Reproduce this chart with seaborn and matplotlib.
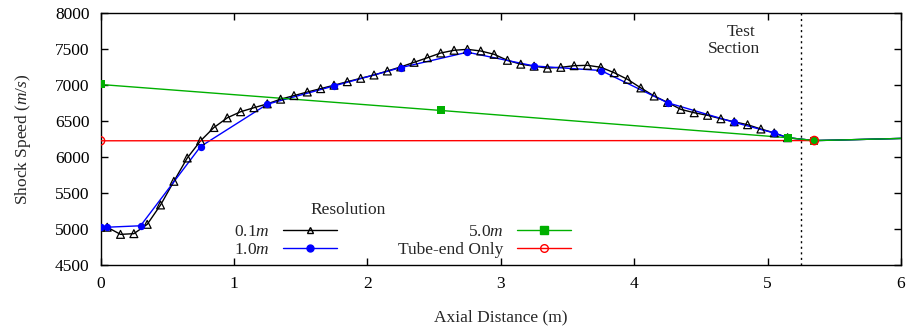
import matplotlib
matplotlib.use("Agg")
import matplotlib.pyplot as plt
from matplotlib.lines import Line2D
import seaborn as sns
import pandas as pd

# ---------------- data ----------------
x_01 = [0.00, 0.05, 0.15, 0.25, 0.35, 0.45, 0.55, 0.65, 0.75, 0.85, 0.95,
        1.05, 1.15, 1.25, 1.35, 1.45, 1.55, 1.65, 1.75, 1.85, 1.95,
        2.05, 2.15, 2.25, 2.35, 2.45, 2.55, 2.65, 2.75, 2.85, 2.95,
        3.05, 3.15, 3.25, 3.35, 3.45, 3.55, 3.65, 3.75, 3.85, 3.95,
        4.05, 4.15, 4.25, 4.35, 4.45, 4.55, 4.65, 4.75, 4.85, 4.95,
        5.05, 5.15]
v_01 = [5020, 5020, 4920, 4930, 5060, 5330, 5660, 5985, 6225, 6410, 6545,
        6630, 6686, 6740, 6805, 6855, 6905, 6952, 7000, 7049, 7096,
        7142, 7198, 7255, 7319, 7383, 7449, 7487, 7500, 7477, 7431,
        7347, 7293, 7265, 7238, 7249, 7272, 7277, 7250, 7174, 7082,
        6962, 6849, 6760, 6663, 6616, 6580, 6532, 6490, 6449, 6389,
        6335, 6268]

x_10 = [0.00, 0.05, 0.30, 0.75, 1.25, 1.75, 2.25, 2.75, 3.25, 3.75, 4.25, 4.75, 5.05]
v_10 = [5020, 5020, 5040, 6145, 6735, 6990, 7245, 7460, 7268, 7205, 6756, 6482, 6333]

x_50 = [0.00, 2.55, 5.15, 5.35]
v_50 = [7010, 6648, 6268, 6228]

x_end = [0.00, 5.35]
v_end = [6225, 6228]

# shared downstream (test section) trace without markers
x_tail = [5.15, 5.35, 5.50, 6.00]
v_tail = [6268, 6228, 6234, 6258]

labels = ["0.1$m$", "1.0$m$", "5.0$m$", "Tube-end Only"]
colors = ["black", "#0000ff", "#00b000", "#ff0000"]

# ---------------- style ----------------
sns.set_style("ticks")
plt.rcParams["font.family"] = ["Liberation Serif", "DejaVu Serif"]
plt.rcParams["mathtext.fontset"] = "custom"
plt.rcParams["mathtext.rm"] = "Liberation Serif"
plt.rcParams["mathtext.it"] = "Liberation Serif:italic"
plt.rcParams["font.size"] = 12.5

fig = plt.figure(figsize=(9.08, 3.33), dpi=100)
ax = fig.add_axes([0.1107, 0.2057, 0.8816, 0.7538])


def tail_for(xs, vs):
    xx = list(xs)
    vv = list(vs)
    for a, b in zip(x_tail, v_tail):
        if a > xx[-1]:
            xx.append(a)
            vv.append(b)
    return xx, vv


# lines
for xs, vs, c in [(x_01, v_01, colors[0]), (x_10, v_10, colors[1])]:
    xx, vv = tail_for(xs, vs)
    sns.lineplot(x=xx, y=vv, ax=ax, color=c, lw=1.0, estimator=None, sort=False, zorder=2)
sns.lineplot(x=x_end, y=v_end, ax=ax, color=colors[3], lw=1.0, estimator=None, sort=False, zorder=3)
xx, vv = tail_for(x_50, v_50)
sns.lineplot(x=xx, y=vv, ax=ax, color=colors[2], lw=1.0, estimator=None, sort=False, zorder=3)

# markers
sns.scatterplot(x=x_01, y=v_01, ax=ax, marker="^", s=32, facecolor="none",
                edgecolor="black", linewidth=0.9, zorder=4)
sns.scatterplot(x=x_10, y=v_10, ax=ax, marker="o", s=28, color=colors[1],
                edgecolor=colors[1], linewidth=0, zorder=5)
sns.scatterplot(x=x_50, y=v_50, ax=ax, marker="s", s=34, color=colors[2],
                edgecolor=colors[2], linewidth=0, zorder=6)
sns.scatterplot(x=x_end, y=v_end, ax=ax, marker="o", s=36, facecolor="none",
                edgecolor=colors[3], linewidth=1.0, zorder=7)

# test section marker
ax.axvline(5.25, color="black", ls=(0, (1.5, 2.5)), lw=1.0, zorder=1)
ax.text(4.80, 7745, "Test", ha="center", va="center", fontsize=12.5)
ax.text(4.75, 7505, "Section", ha="center", va="center", fontsize=12.5)

# axes
ax.set_xlim(0, 6)
ax.set_ylim(4500, 8000)
ax.set_xticks([0, 1, 2, 3, 4, 5, 6])
ax.set_yticks([4500, 5000, 5500, 6000, 6500, 7000, 7500, 8000])
ax.tick_params(direction="in", length=5, width=1, top=True, right=True,
               labelsize=12.5, colors="black")
ax.tick_params(axis="x", pad=8)
ax.tick_params(axis="y", pad=8)
for sp in ax.spines.values():
    sp.set_visible(True)
    sp.set_color("black")
    sp.set_linewidth(1.0)
ax.set_xlabel("Axial Distance (m)", fontsize=12.5, labelpad=13)
ax.set_ylabel("Shock Speed ($m/s$)", fontsize=12.5, labelpad=16)

# legend
handles = [
    Line2D([], [], color=colors[0], lw=1.0, marker="^", ms=5, mfc="none", mec="black"),
    Line2D([], [], color=colors[1], lw=1.0, marker="o", ms=5, mfc=colors[1], mec=colors[1]),
    Line2D([], [], color=colors[2], lw=1.0, marker="s", ms=5.5, mfc=colors[2], mec=colors[2]),
    Line2D([], [], color=colors[3], lw=1.0, marker="o", ms=5.5, mfc="none", mec=colors[3]),
]
leg = ax.legend(handles, labels, ncol=2, markerfirst=False, frameon=False,
                loc="center", bbox_to_anchor=(402.5 / 908, 1 - 241 / 333),
                bbox_transform=fig.transFigure, borderpad=0, borderaxespad=0,
                handlelength=3.1, handletextpad=0.8, columnspacing=3.5,
                labelspacing=0.15, fontsize=12.5)
fig.text(348 / 908, 1 - 210 / 333, "Resolution", ha="center", va="center", fontsize=12.5)

fig.savefig("out.png", dpi=100)
